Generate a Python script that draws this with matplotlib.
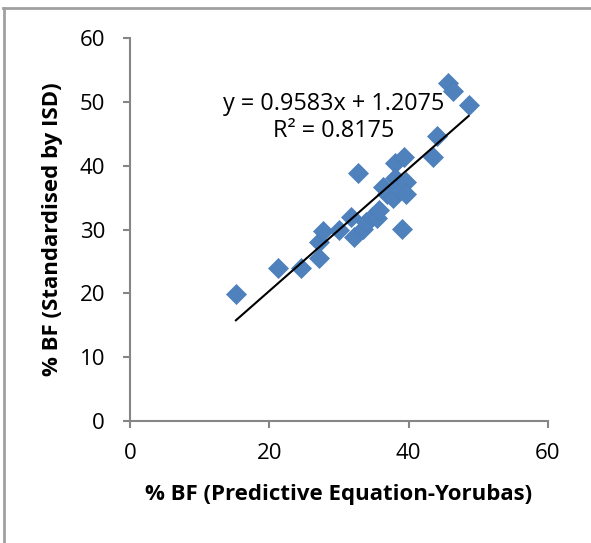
import numpy as np
import matplotlib
matplotlib.use("Agg")
import matplotlib.pyplot as plt
from matplotlib.lines import Line2D

# Data
x_pred = [15.2, 21.2, 24.5, 27.1, 27.1, 27.7, 30.0, 31.7, 32.2, 32.7,
          33.5, 33.9, 34.7, 35.5, 35.8, 36.3, 36.9, 37.7, 38.0, 38.0,
          38.5, 39.3, 39.0, 39.6, 39.6, 43.5, 44.1, 45.7, 46.3, 48.6]
y_isd = [19.9, 24.0, 23.9, 25.6, 28.0, 29.7, 30.0, 32.0, 28.9, 38.8,
         30.1, 31.2, 32.0, 31.8, 33.1, 36.6, 35.6, 35.0, 40.4, 38.0,
         36.4, 41.3, 30.1, 37.5, 35.6, 41.3, 44.7, 52.9, 51.7, 49.5]
slope = 0.9583
intercept = 1.2075
r2 = 0.8175
x_ticks = [0, 20, 40, 60]
y_ticks = [0, 10, 20, 30, 40, 50, 60]
x_label = "% BF (Predictive Equation-Yorubas)"
y_label = "% BF (Standardised by ISD)"

plt.rcParams['font.family'] = ['Open Sans', 'DejaVu Sans']

fig = plt.figure(figsize=(5.91, 5.43), dpi=100)
ax = fig.add_axes([130/591, 1 - 421/543, (548-130)/591, (421-38)/543])

ax.plot(x_pred, y_isd, linestyle='none', marker='D', markersize=10,
        color='#4F81BD', markeredgecolor='#4A7EBB', markeredgewidth=0.5, zorder=2)

xs = np.array([min(x_pred), max(x_pred)])
ax.plot(xs, slope * xs + intercept, color='black', linewidth=1.5, zorder=3)

ax.text(29.3, 47.6, f"y = {slope}x + {intercept}\nR² = {r2}",
        ha='center', va='center', multialignment='center', fontsize=16.8,
        linespacing=1.15)

ax.set_xlim(0, 60)
ax.set_ylim(0, 60)
ax.set_xticks(x_ticks)
ax.set_yticks(y_ticks)
for s in ['top', 'right']:
    ax.spines[s].set_visible(False)
for s in ['left', 'bottom']:
    ax.spines[s].set_color('#868686')
    ax.spines[s].set_linewidth(1.5)
ax.tick_params(axis='both', direction='out', length=5, width=1.5,
               color='#868686', labelsize=16)
ax.tick_params(axis='y', pad=13)
ax.tick_params(axis='x', pad=11)
ax.set_xlabel(x_label, fontsize=16, fontweight='bold', labelpad=14)
ax.set_ylabel(y_label, fontsize=16, fontweight='bold', labelpad=12)

# outer grey frame lines
fig.add_artist(Line2D([3/591, 1], [1 - 8/543, 1 - 8/543], color='#A0A0A0',
                      linewidth=2, transform=fig.transFigure))
fig.add_artist(Line2D([4/591, 4/591], [0, 1 - 8/543], color='#A0A0A0',
                      linewidth=2, transform=fig.transFigure))

fig.savefig("out.png", dpi=100)
